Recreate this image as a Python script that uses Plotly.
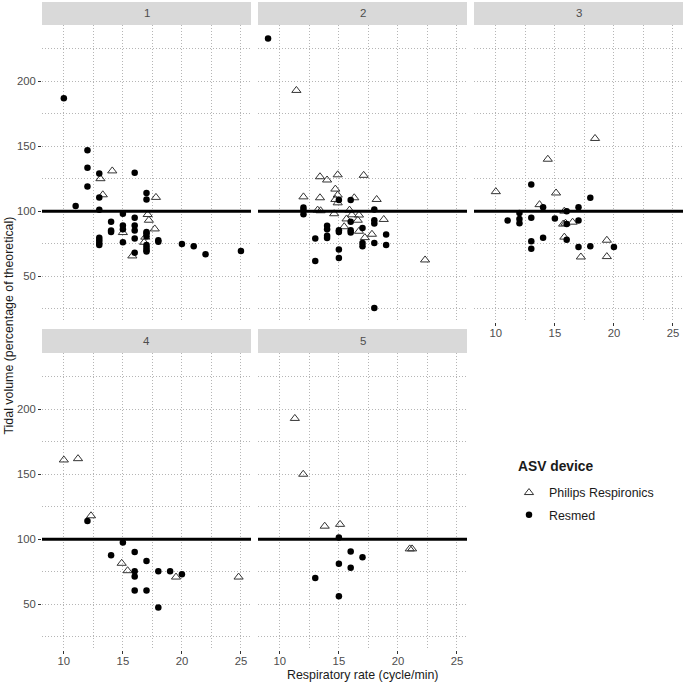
import plotly.graph_objects as go

# ---------------- data (respiratory rate, tidal volume %) ----------------
panels = ["1", "2", "3", "4", "5"]

p1_resmed_rr = [10, 11, 12, 12, 12, 13, 13, 13, 13, 13, 13, 13, 14, 14, 14, 15, 15, 15, 15,
                16, 16, 16, 16, 16, 16, 17, 17, 17, 17, 17, 17, 17, 17, 17, 18, 18, 20, 21, 22, 25]
p1_resmed_vt = [187, 104, 147, 133.5, 119, 129, 110.5, 101, 79.6, 77.6, 75.5, 74, 91.8, 85, 84,
                98, 89, 86, 76, 129.6, 95, 89, 85, 79, 68, 114, 109, 84, 83, 80.7, 74, 72, 70, 69,
                77.6, 76.5, 74.7, 73, 66.8, 69.3]
p1_philips_rr = [13.1, 13.3, 14.1, 15, 15.8, 16.8, 16.9, 17.1, 17.2, 17.7, 17.8]
p1_philips_vt = [125, 112.6, 131, 83.5, 65.5, 76, 80, 97.4, 93, 86.3, 110.6]

p2_resmed_rr = [9, 12, 12, 12, 13, 13, 14, 14, 14, 14, 15, 15, 15, 15, 15, 16, 16, 16, 16,
                17, 17, 17, 18, 18, 18, 18, 18, 19, 19]
p2_resmed_vt = [233, 102.8, 100.8, 97.7, 79, 61.6, 88.7, 86, 81, 79.4, 108.5, 85.3, 84, 70.4, 63.9,
                108.5, 91.8, 85.3, 83.5, 87, 75.5, 73, 101.3, 93, 90.5, 75.5, 25.3, 82, 74]
p2_philips_rr = [11.4, 12, 13.4, 13.4, 13.2, 13.45, 14, 14.6, 14.7, 14.7, 14.9, 14.9, 14.9, 15.45,
                 15.65, 15.9, 16.1, 16.3, 16.6, 16.7, 16.7, 17.1, 17.2, 17.8, 18.2, 18.8, 22.3]
p2_philips_vt = [193, 111, 126.5, 110.3, 100.8, 100.3, 124, 98, 117, 109, 128, 112.4, 106.4, 88,
                 94, 100.8, 97.2, 110.3, 93, 97, 84.5, 127.6, 79.6, 82.2, 109, 93.6, 62.4]

p3_resmed_rr = [11, 12, 12, 12, 13, 13, 13, 13, 14, 14, 15, 16, 16, 16, 17, 17, 17, 18, 18, 20]
p3_resmed_vt = [92.8, 98.5, 94, 90.7, 120.6, 95, 76.8, 71, 103, 79.6, 94.3, 100, 90, 78, 103,
                92.8, 72.4, 110.3, 73, 72.4]
p3_philips_rr = [10, 13.7, 14.4, 15.1, 15.8, 15.7, 15.9, 16.5, 15.8, 17.2, 18.4, 19.4, 19.4]
p3_philips_vt = [115, 105, 140, 114, 100, 90, 90.7, 91.5, 80, 64.7, 156, 77.6, 65]

p4_resmed_rr = [12, 14, 15, 16, 16, 16, 16, 17, 17, 18, 18, 19, 20]
p4_resmed_vt = [114, 87.6, 97.4, 90, 75.2, 71.3, 60.5, 83.2, 60.5, 75.2, 47.3, 75.2, 73]
p4_philips_rr = [10, 11.2, 12.3, 14.9, 15.4, 19.5, 24.8]
p4_philips_vt = [161, 162, 118, 81.4, 75.7, 70.8, 70.8]

p5_resmed_rr = [15, 16, 17, 15, 16, 13, 15]
p5_resmed_vt = [101.3, 90.4, 86, 81, 78, 70, 56]
p5_philips_rr = [11.27, 11.98, 13.8, 15.1, 21.0, 21.2]
p5_philips_vt = [193, 150, 110, 111.4, 92.5, 92.5]

reference_vt = 100
x_ticks = [10, 15, 20, 25]
y_ticks = [50, 100, 150, 200]

resmed = [(p1_resmed_rr, p1_resmed_vt), (p2_resmed_rr, p2_resmed_vt), (p3_resmed_rr, p3_resmed_vt),
          (p4_resmed_rr, p4_resmed_vt), (p5_resmed_rr, p5_resmed_vt)]
philips = [(p1_philips_rr, p1_philips_vt), (p2_philips_rr, p2_philips_vt), (p3_philips_rr, p3_philips_vt),
           (p4_philips_rr, p4_philips_vt), (p5_philips_rr, p5_philips_vt)]

# ---------------- layout geometry (pixels, window coordinates) ----------------
W, H = 685, 683
col_px = [(42, 251), (258, 467), (474, 683)]
row_px = [(25, 322), (353, 650)]
strip_px = [(2, 25), (329, 353)]
pos = [(0, 0), (0, 1), (0, 2), (1, 0), (1, 1)]


def px(p):
    return p / W


def py(p):
    return 1 - p / H


FONT = "Liberation Sans, Arial, sans-serif"
GRID = "#b5b5b5"
DASH = "1px,2px"
TICKFONT = dict(size=11.3, color="#4d4d4d", family=FONT)
TITLEFONT = dict(size=12.4, color="#1a1a1a", family=FONT)

fig = go.Figure()
layout_axes = {}
shapes = []
annotations = []

for i, name in enumerate(panels):
    r, c = pos[i]
    k = "" if i == 0 else str(i + 1)
    xa, ya = "x" + k, "y" + k
    x0, x1 = col_px[c]
    t, b = row_px[r]
    show_x = (r == 1) or (i == 2)
    show_y = (c == 0)
    layout_axes["xaxis" + k] = dict(
        domain=[px(x0), px(x1)], anchor=ya, range=[8.15, 25.85],
        tickvals=x_ticks, showticklabels=show_x, ticks="outside" if show_x else "",
        ticklen=3, tickcolor="#333333", tickwidth=1, tickfont=TICKFONT, ticklabelstandoff=-3,
        showgrid=True, gridcolor=GRID, griddash=DASH, gridwidth=1,
        minor=dict(tickvals=[12.5, 17.5, 22.5], showgrid=True, gridcolor=GRID, griddash=DASH, gridwidth=1),
        zeroline=False, showline=False, fixedrange=True,
    )
    layout_axes["yaxis" + k] = dict(
        domain=[py(b), py(t)], anchor=xa, range=[14.6, 243.4],
        tickvals=y_ticks, showticklabels=show_y, ticks="outside" if show_y else "",
        ticklen=3, tickcolor="#333333", tickwidth=1, tickfont=TICKFONT,
        showgrid=True, gridcolor=GRID, griddash=DASH, gridwidth=1,
        minor=dict(tickvals=[25, 75, 125, 175, 225], showgrid=True, gridcolor=GRID, griddash=DASH, gridwidth=1),
        zeroline=False, showline=False, fixedrange=True,
    )
    shapes.append(dict(type="line", xref=xa + " domain", yref=ya, x0=0, x1=1,
                       y0=reference_vt, y1=reference_vt, line=dict(color="black", width=3), layer="above"))
    s0, s1 = strip_px[r]
    shapes.append(dict(type="rect", xref="paper", yref="paper", x0=px(x0), x1=px(x1),
                       y0=py(s1), y1=py(s0), fillcolor="#d9d9d9", line=dict(width=0), layer="below"))
    annotations.append(dict(text=name, xref="paper", yref="paper", x=px((x0 + x1) / 2),
                            y=py((s0 + s1) / 2), showarrow=False, xanchor="center", yanchor="middle",
                            font=dict(size=11.5, color="#4d4d4d", family=FONT)))

    prx, pvt = philips[i]
    fig.add_trace(go.Scatter(x=prx, y=pvt, xaxis=xa, yaxis=ya, mode="markers",
                             name="Philips Respironics", legendgroup="ph", showlegend=(i == 0),
                             marker=dict(symbol="triangle-up-open", size=8, color="#333333",
                                         line=dict(width=1, color="#333333"))))
    rrx, rvt = resmed[i]
    fig.add_trace(go.Scatter(x=rrx, y=rvt, xaxis=xa, yaxis=ya, mode="markers",
                             name="Resmed", legendgroup="rs", showlegend=(i == 0),
                             marker=dict(symbol="circle", size=6.5, color="black",
                                         line=dict(width=0))))

annotations.append(dict(text="Respiratory rate (cycle/min)", xref="paper", yref="paper",
                        x=px((42 + 683) / 2), y=py(674.5), showarrow=False,
                        xanchor="center", yanchor="middle", font=TITLEFONT))
annotations.append(dict(text="Tidal volume (percentage of theoretical)", xref="paper", yref="paper",
                        x=px(8.5), y=py(326), showarrow=False, textangle=-90,
                        xanchor="center", yanchor="middle", font=TITLEFONT))
annotations.append(dict(text="<b>ASV device</b>", xref="paper", yref="paper",
                        x=px(516), y=py(466), showarrow=False,
                        xanchor="left", yanchor="middle", font=dict(size=13.8, color="#1a1a1a", family=FONT)))

fig.update_layout(
    width=W, height=H, margin=dict(l=0, r=0, t=0, b=0),
    paper_bgcolor="white", plot_bgcolor="white",
    shapes=shapes, annotations=annotations,
    font=dict(family=FONT, size=11, color="#1a1a1a"),
    legend=dict(x=px(509), y=py(478), xanchor="left", yanchor="top",
                font=dict(size=12.4, color="#1a1a1a", family=FONT), bgcolor="rgba(0,0,0,0)",
                itemsizing="trace", tracegroupgap=3),
    **layout_axes,
)

# remove the default page margin so the 685x683 figure fills the window exactly
fig.write_html("out.html", config={"displayModeBar": False},
               post_script="document.body.style.margin='0px';")
